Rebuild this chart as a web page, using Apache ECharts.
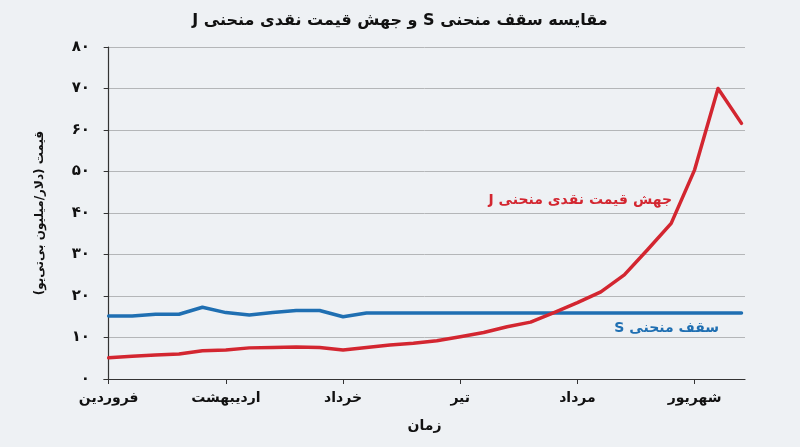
<!DOCTYPE html>
<html>
<head>
<meta charset="utf-8">
<script src="https://cdn.jsdelivr.net/npm/echarts@6/dist/echarts.min.js"></script>
<style>
  html, body { margin: 0; padding: 0; background: #eef1f4; }
  #chart { width: 800px; height: 447px; }
</style>
</head>
<body>
<div id="chart" dir="rtl"></div>
<script>
// داده‌ها
var monthIndex = [0, 5, 10, 15, 20, 25];
var monthNames = ['فروردین', 'اردیبهشت', 'خرداد', 'تیر', 'مرداد', 'شهریور'];
var sCurve = [15.2, 15.2, 15.6, 15.6, 17.3, 16.0, 15.4, 16.0, 16.5, 16.5, 15.0, 15.9, 15.9, 15.9,
    15.9, 15.9, 15.9, 15.9, 15.9, 15.9, 15.9, 15.9, 15.9, 15.9, 15.9, 15.9, 15.9, 15.9];
var jCurve = [5.1, 5.5, 5.8, 6.0, 6.8, 7.0, 7.5, 7.6, 7.7, 7.6, 7.0, 7.6, 8.2, 8.6,
    9.2, 10.2, 11.2, 12.6, 13.7, 16.0, 18.4, 21.0, 25.1, 31.2, 37.5, 50.4, 70.0, 61.6];
var yTicks = ['۰', '۱۰', '۲۰', '۳۰', '۴۰', '۵۰', '۶۰', '۷۰', '۸۰'];

var FONT = 'DejaVu Sans';

function pairs(arr) {
    return arr.map(function(v, i) { return [i, v]; });
}

var myChart = echarts.init(document.getElementById('chart'));

var option = {
    backgroundColor: '#eef1f4',
    animation: false,
    textStyle: { fontFamily: FONT },
    title: {
        text: 'مقایسه سقف منحنی S و جهش قیمت نقدی منحنی J',
        left: 'center',
        top: 8,
        textStyle: { fontFamily: FONT, fontSize: 16, fontWeight: 'bold', color: '#111' }
    },
    grid: { left: 104, right: 55, top: 47, bottom: 68, outerBoundsMode: 'none' },
    xAxis: {
        type: 'value',
        min: -0.2,
        max: 27.15,
        name: 'زمان',
        nameLocation: 'middle',
        nameGap: 40,
        nameTextStyle: { fontFamily: FONT, fontSize: 14, fontWeight: 'bold', color: '#111' },
        axisLine: { show: true, lineStyle: { color: '#333', width: 1.2 } },
        axisTick: { show: true, length: 5, customValues: monthIndex, lineStyle: { color: '#333' } },
        axisLabel: {
            customValues: monthIndex,
            margin: 12,
            fontFamily: FONT, fontSize: 14, fontWeight: 'bold', color: '#111',
            formatter: function(v) {
                var k = monthIndex.indexOf(Math.round(v));
                return k >= 0 ? monthNames[k] : '';
            }
        },
        splitLine: { show: false }
    },
    yAxis: {
        type: 'value',
        min: 0,
        max: 80,
        interval: 10,
        name: 'قیمت (دلار/میلیون بی‌تی‌یو)',
        nameLocation: 'middle',
        nameGap: 58,
        nameRotate: 90,
        nameTextStyle: { fontFamily: FONT, fontSize: 12, fontWeight: 'bold', color: '#111' },
        axisLine: { show: true, lineStyle: { color: '#333', width: 1.2 } },
        axisTick: { show: true, length: 5, lineStyle: { color: '#333' } },
        axisLabel: {
            margin: 14,
            fontFamily: FONT, fontSize: 15, fontWeight: 'bold', color: '#111',
            formatter: function(v) { return yTicks[Math.round(v / 10)]; }
        },
        splitLine: { show: true, lineStyle: { color: '#b4b6b8', width: 1 } }
    },
    series: [
        {
            name: 'سقف منحنی S',
            type: 'line',
            data: pairs(sCurve),
            showSymbol: false,
            lineStyle: { color: '#1f6fb2', width: 3.5, cap: 'round', join: 'round' },
            itemStyle: { color: '#1f6fb2' },
            z: 3
        },
        {
            name: 'جهش قیمت نقدی منحنی J',
            type: 'line',
            data: pairs(jCurve),
            showSymbol: false,
            lineStyle: { color: '#d32630', width: 3.5, cap: 'round', join: 'round' },
            itemStyle: { color: '#d32630' },
            z: 4
        }
    ],
    graphic: [
        {
            type: 'text', right: 128, top: 193,
            style: { text: 'جهش قیمت نقدی منحنی J', fill: '#d32630', font: 'bold 14px "DejaVu Sans"' }
        },
        {
            type: 'text', right: 81, top: 321,
            style: { text: 'سقف منحنی S', fill: '#1f6fb2', font: 'bold 14px "DejaVu Sans"' }
        }
    ]
};

myChart.setOption(option);
</script>
</body>
</html>
